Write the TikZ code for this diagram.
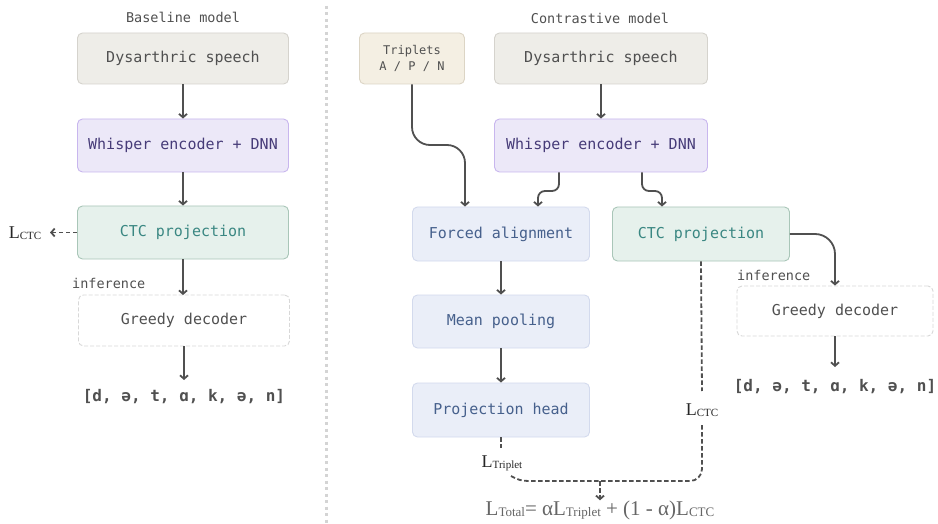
\documentclass[tikz,border=0pt]{standalone}
\usepackage{fontspec}
\setmainfont{Liberation Serif}
\setmonofont{DejaVu Sans Mono}
\usetikzlibrary{arrows.meta,calc}
\definecolor{lnc}{HTML}{505050}
\definecolor{txg}{HTML}{505050}
\definecolor{dsfill}{HTML}{EEEDE8}\definecolor{dsdraw}{HTML}{D5D3CD}
\definecolor{wsfill}{HTML}{ECE8F8}\definecolor{wsdraw}{HTML}{C8B6EE}\definecolor{wstxt}{HTML}{463B78}
\definecolor{ctfill}{HTML}{E6F1EC}\definecolor{ctdraw}{HTML}{A9C6B8}\definecolor{cttxt}{HTML}{3A8782}
\definecolor{trfill}{HTML}{F4EFE3}\definecolor{trdraw}{HTML}{DCD5C5}
\definecolor{blfill}{HTML}{EAEEF8}\definecolor{bldraw}{HTML}{D3DAED}\definecolor{bltxt}{HTML}{46608C}
\definecolor{grdraw}{HTML}{D8D8D8}
\newcommand{\Lsb}[3][18]{\fontsize{#1}{#1}\selectfont L\raisebox{-1pt}{\fontsize{#2}{#2}\selectfont #3}}
\tikzset{
  box/.style={rounded corners=5pt, line width=0.9pt, font=\ttfamily\fontsize{15}{18}\selectfont, align=center, inner sep=0pt},
  dsbox/.style={box, fill=dsfill, draw=dsdraw, text=txg},
  wsbox/.style={box, fill=wsfill, draw=wsdraw, text=wstxt},
  ctbox/.style={box, fill=ctfill, draw=ctdraw, text=cttxt},
  trbox/.style={box, fill=trfill, draw=trdraw, text=txg, font=\ttfamily\fontsize{12}{16}\selectfont},
  blbox/.style={box, fill=blfill, draw=bldraw, text=bltxt},
  grbox/.style={box, fill=white, draw=grdraw, dashed, dash pattern=on 4pt off 2pt, text=txg},
  arr/.style={draw=lnc, line width=1.8pt, -{Straight Barb[length=3.5pt,width=8pt]}},
  dl/.style={draw=lnc, line width=1.8pt, dash pattern=on 4.5pt off 2.5pt},
  ttl/.style={font=\ttfamily\fontsize{13.5}{16}\selectfont, text=txg, inner sep=0pt},
  outtxt/.style={font=\ttfamily\bfseries\fontsize{16}{18}\selectfont, text=txg, inner sep=0pt},
  lbl/.style={text=black!85, inner sep=0pt},
}
\begin{document}
\begin{tikzpicture}[x=1pt,y=-1pt]
\useasboundingbox (0,0) rectangle (938,524);
\fill[white] (0,0) rectangle (938,524);
% divider
\draw[color=black!17, line width=3pt, dash pattern=on 3pt off 3.5pt] (326,6) -- (326,524);

% ---------- Baseline ----------
\node[ttl] (bt) at (183,17) {Baseline model};
\node[dsbox, minimum width=211pt, minimum height=51pt] (bds) at (183,58.5) {Dysarthric speech};
\node[wsbox, minimum width=211pt, minimum height=53pt] (bws) at (183,145.5) {Whisper encoder + DNN};
\node[ctbox, minimum width=211pt, minimum height=53pt] (bct) at (183,232.5) {CTC projection};
\node[grbox, minimum width=211pt, minimum height=51pt] (bgr) at (184,320.5) {Greedy decoder};
\node[ttl, anchor=west] (binf) at (72,283) {inference};
\coordinate (bout) at (184,380);
\node[outtxt] (bo) at (184,397) {[d, ə, t, ɑ, k, ə, n]};
\node[lbl] (blc) at (25,233) {\Lsb{11}{CTC}};
\coordinate (blca) at (50,232.5);

\draw[arr] (bds) -- (bws);
\draw[arr] (bws) -- (bct);
\draw[arr] (bct.south) -- ([yshift=-0.5pt]bgr.north -| bct.south);
\draw[arr] (bgr.south) -- (bout);
\draw[dl, -{Straight Barb[length=3.5pt,width=8pt]}] (bct.west) -- (blca);

% ---------- Contrastive ----------
\node[ttl] (ct) at (600,18) {Contrastive model};
\node[trbox, minimum width=105pt, minimum height=51pt] (tr) at (412,58.5) {Triplets\\A / P / N};
\node[dsbox, minimum width=213pt, minimum height=51pt] (cds) at (601,58.5) {Dysarthric speech};
\node[wsbox, minimum width=213pt, minimum height=53pt] (cws) at (601,145.5) {Whisper encoder + DNN};
\node[blbox, minimum width=177pt, minimum height=54pt] (fa) at (501,234) {Forced alignment};
\node[blbox, minimum width=177pt, minimum height=53pt] (mp) at (501,321.5) {Mean pooling};
\node[blbox, minimum width=177pt, minimum height=54pt] (ph) at (501,410) {Projection head};
\node[ctbox, minimum width=177pt, minimum height=54pt] (cct) at (701,234) {CTC projection};
\node[grbox, minimum width=196pt, minimum height=50pt] (cgr) at (835,311) {Greedy decoder};
\node[ttl, anchor=west] (cinf) at (737,275) {inference};
\coordinate (cout) at (835,367);
\node[outtxt] (co) at (835,387) {[d, ə, t, ɑ, k, ə, n]};

\draw[arr] (cds) -- (cws);
\coordinate (t1) at (465,145);
\draw[arr, rounded corners=18pt] (tr.south) |- (t1) -- ([xshift=-36pt]fa.north);
\coordinate (w1) at (538,191);
\draw[arr, rounded corners=7pt] ([xshift=-42pt]cws.south) |- (w1) -- ([xshift=37pt]fa.north);
\coordinate (w2) at (662,191);
\draw[arr, rounded corners=7pt] ([xshift=41pt]cws.south) |- (w2) -- ([xshift=-39pt]cct.north);
\draw[arr] (fa) -- (mp);
\draw[arr] (mp) -- (ph);
\draw[arr, rounded corners=20pt] (cct.east) -| (cgr.north);
\draw[arr] (cgr.south) -- (cout);

% losses
\node[lbl] (ltr) at (502,463) {\Lsb{11}{Triplet}};
\node[lbl] (lct) at (702,410) {\Lsb{11}{CTC}};
\node[text=black!60, inner sep=0pt] (tot) at (600,510) {\Lsb[21]{13}{Total}= α\Lsb[21]{13}{Triplet} + (1 - α)\Lsb[21]{13}{CTC}};
\coordinate (j) at (600,481);
\draw[dl] (ph.south) -- ++(0,11);
\draw[dl] (cct.south) -- (lct.north |- 0,391);
\draw[dl, rounded corners=12pt] (lct.south |- 0,425) |- (j);
\draw[dl] (511,476) to[out=-30,in=180] (529,481) -- (j);
\draw[dl, -{Straight Barb[length=3.5pt,width=8pt]}] (j) -- (tot.north);
\end{tikzpicture}
\end{document}
